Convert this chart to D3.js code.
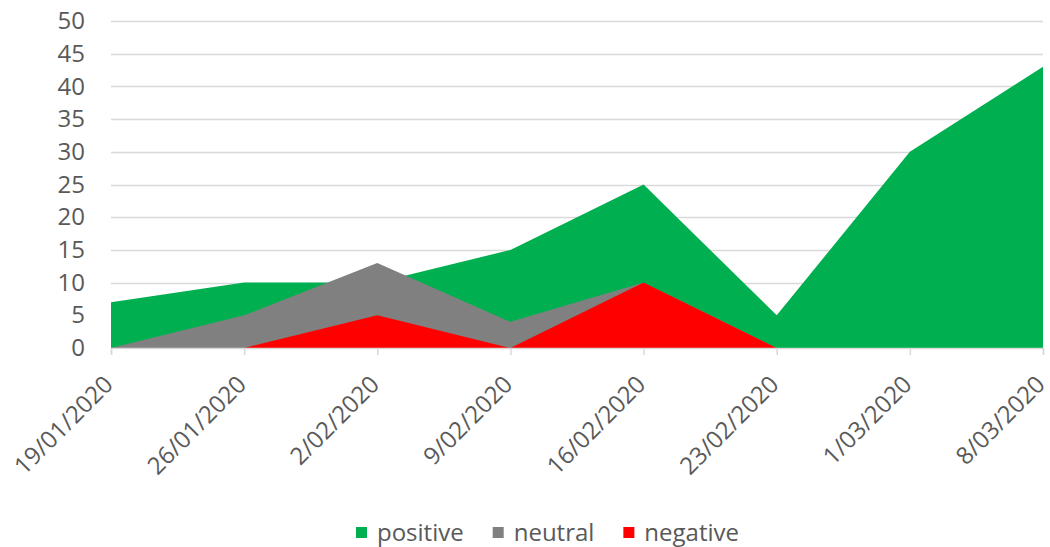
<!DOCTYPE html>
<html>
<head>
<meta charset="utf-8">
<script src="https://cdn.jsdelivr.net/npm/d3@7"></script>
<style>
  html, body { margin: 0; padding: 0; background: #fff; }
  svg { display: block; }
  text { font-family: "Open Sans", sans-serif; fill: #595959; }
</style>
</head>
<body>
<svg id="chart" width="1050" height="547"></svg>
<script>
const categories = ["19/01/2020", "26/01/2020", "2/02/2020", "9/02/2020", "16/02/2020", "23/02/2020", "1/03/2020", "8/03/2020"];
const positive = [7, 10, 10, 15, 25, 5, 30, 43];
const neutral  = [0, 5, 13, 4, 10, 0, 0, 0];
const negative = [0, 0, 5, 0, 10, 0, 0, 0];
const seriesNames = ["positive", "neutral", "negative"];
const seriesColors = ["#00B050", "#808080", "#FF0000"];
const yTicks = [0, 5, 10, 15, 20, 25, 30, 35, 40, 45, 50];

(function () {
const svg = d3.select("#chart");
const mLeft = 111, mRight = 1043, mTop = 21, mBottom = 348;

const x = d3.scalePoint().domain(categories).range([mLeft, mRight]);
const y = d3.scaleLinear().domain([0, 50]).range([mBottom, mTop]);

// gridlines
svg.append("g").selectAll("line").data(yTicks.filter(d => d > 0)).join("line")
  .attr("x1", mLeft).attr("x2", mRight)
  .attr("y1", d => Math.round(y(d)) + 0.5).attr("y2", d => Math.round(y(d)) + 0.5)
  .attr("stroke", "#D9D9D9").attr("stroke-width", 1.5);

// areas
const seriesData = [positive, neutral, negative];
const area = d3.area()
  .x((d, i) => x(categories[i]))
  .y0(y(0))
  .y1(d => y(d));
svg.append("g").selectAll("path").data(seriesData).join("path")
  .attr("d", d => area(d))
  .attr("fill", (d, i) => seriesColors[i]);

// x axis
const xAxis = d3.axisBottom(x).tickSize(7).tickPadding(0);
const gx = svg.append("g").attr("transform", `translate(0,${mBottom})`).call(xAxis);
gx.select(".domain").attr("stroke", "#D9D9D9").attr("stroke-width", 1.5);
gx.selectAll(".tick line").attr("stroke", "#D9D9D9").attr("stroke-width", 1.5);
gx.selectAll(".tick text")
  .attr("font-size", 24)
  .attr("text-anchor", "end")
  .attr("dy", "0.35em")
  .attr("fill", "#595959")
  .style("font-family", "'Open Sans', sans-serif")
  .attr("transform", "translate(-3,32) rotate(-45)")
  .attr("y", 0).attr("x", 0);

// y axis
const yAxis = d3.axisLeft(y).tickValues(yTicks).tickSize(0).tickPadding(26);
const gy = svg.append("g").attr("transform", `translate(${mLeft},0)`).call(yAxis);
gy.select(".domain").remove();
gy.selectAll(".tick text")
  .attr("font-size", 24)
  .attr("fill", "#595959")
  .style("font-family", "'Open Sans', sans-serif");

// legend
const legend = svg.append("g");
let cx = 0;
seriesNames.forEach((name, i) => {
  const g = legend.append("g").attr("transform", `translate(${cx},0)`);
  g.append("rect").attr("x", 0).attr("y", -6).attr("width", 11).attr("height", 11).attr("fill", seriesColors[i]);
  const t = g.append("text").attr("x", 21).attr("y", 0).attr("dy", "0.35em")
    .attr("font-size", 24).text(name);
  const w = t.node().getComputedTextLength();
  cx += 21 + w + 29;
});
const totalW = cx - 29;
legend.attr("transform", `translate(${547.5 - totalW / 2},533)`);
})();
</script>
</body>
</html>
